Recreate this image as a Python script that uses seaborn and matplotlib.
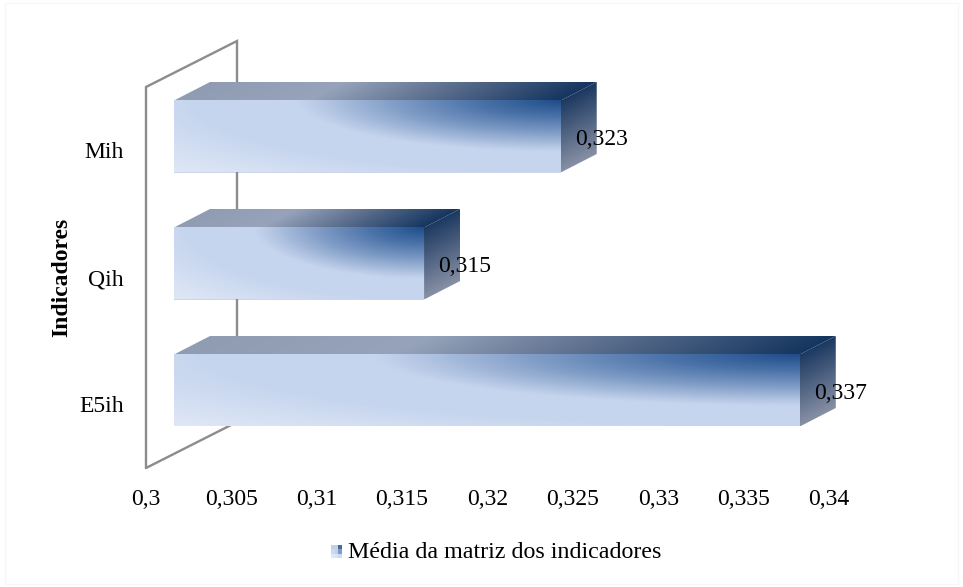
import numpy as np
import pandas as pd
import matplotlib
matplotlib.use("Agg")
import matplotlib.pyplot as plt
from matplotlib.colors import LinearSegmentedColormap
from matplotlib.patches import Rectangle, Polygon
import seaborn as sns

indicators = ["Mih", "Qih", "E5ih"]
means = [0.323, 0.315, 0.337]
value_labels = ["0,323", "0,315", "0,337"]
x_ticks = [0.3, 0.305, 0.31, 0.315, 0.32, 0.325, 0.33, 0.335, 0.34]
x_tick_labels = ["0,3", "0,305", "0,31", "0,315", "0,32", "0,325", "0,33", "0,335", "0,34"]
legend_label = "Média da matriz dos indicadores"
axis_title = "Indicadores"

W, H = 963, 587
FS = 17
sns.set_theme(style="white")
plt.rcParams["font.family"] = ["Liberation Serif", "DejaVu Serif"]

fig = plt.figure(figsize=(W / 100, H / 100), dpi=100, facecolor="white")
AX_L, AX_R, AX_T, AX_B = 146, 829, 87, 468
rect = [AX_L / W, 1 - AX_B / H, (AX_R - AX_L) / W, (AX_B - AX_T) / H]
ax = fig.add_axes(rect, zorder=1)

df = pd.DataFrame({"indicator": indicators, "mean": means})
sns.barplot(data=df, y="indicator", x="mean", order=indicators, width=72 / 127,
            color="#c6d5ee", ax=ax)
ax.set_xlim(0.3, 0.34)
ax.set_ylim(2.5, -0.5)

# pixel-to-data scales for the oblique projection
px_x = 0.04 / (AX_R - AX_L)
px_y = 3.0 / (AX_B - AX_T)

# numeric overlay on the same data scale, with extra room above and to the right for depth
OV_TOP, OV_RIGHT = 30, 860
ov = fig.add_axes([AX_L / W, 1 - AX_B / H, (OV_RIGHT - AX_L) / W, (AX_B - OV_TOP) / H], zorder=2)
ov_xlim = (0.3, 0.34 + (OV_RIGHT - AX_R) * px_x)
ov_ylim = (2.5, -0.5 - (AX_T - OV_TOP) * px_y)
ov.set_xlim(ov_xlim)
ov.set_ylim(ov_ylim)
ov.axis("off")

def off(dx, dy):
    return dx * px_x, dy * px_y

WALL = off(91, -46)
FRONT = off(28, -14)
END_SHIFT = 22 * px_x
DEPTH = off(36, -18.5)
GRAY = "#8c8c8c"

# side wall and back wall outlines
x0, x1 = 0.3, 0.3 + WALL[0]
y_top, y_bot = -0.5, 2.5
ov.plot([x0, x0, x1, x1, x0], [y_bot, y_top, y_top + WALL[1], y_bot + WALL[1], y_bot],
        color=GRAY, lw=1.7, zorder=1, clip_on=False, solid_joinstyle="miter")

front_cmap = LinearSegmentedColormap.from_list(
    "front", [(0, "#1f4d8a"), (0.25, "#4a72a8"), (0.5, "#7f9cc6"), (0.72, "#b4c6e3"),
              (0.8, "#c6d5ee"), (1, "#dfe7f6")], N=256)
top_cmap = LinearSegmentedColormap.from_list(
    "top", [(0, "#8f9cb2"), (0.35, "#96a3ba"), (0.65, "#5b6e8d"), (1, "#153660")], N=256)
side_cmap = LinearSegmentedColormap.from_list("side", ["#1b3860", "#868fa4"], N=256)

def face(array_fn, corners, cmap):
    """Paint a parallelogram with a shaded image clipped to its outline."""
    xs, ys = zip(*corners)
    xl, xh, yl, yh = min(xs), max(xs), min(ys), max(ys)
    gx, gy = np.meshgrid(np.linspace(xl, xh, 240), np.linspace(yl, yh, 80))
    im = ov.imshow(array_fn(gx, gy), cmap=cmap, vmin=0, vmax=1, extent=(xl, xh, yh, yl),
                   aspect="auto", origin="upper", zorder=4, interpolation="bilinear")
    poly = Polygon(corners, closed=True, transform=ov.transData, fill=False, lw=0)
    ov.add_patch(poly)
    im.set_clip_path(poly)

for i, (bar, v) in enumerate(zip(ax.patches, means)):
    h = bar.get_height()
    yt, yb = i - h / 2, i + h / 2
    left = 0.3 + FRONT[0]
    right = v + END_SHIFT
    bar.set_x(left)
    bar.set_width(right - left)
    bar.set_y(yt + FRONT[1])
    bar.set_linewidth(0)

    ytf, ybf = yt + FRONT[1], yb + FRONT[1]
    ddx, ddy = DEPTH
    seam_x, seam_y = 0.8 * px_x, 0.8 * px_y

    # front face: dark glow spreading from the top right corner
    def front(gx, gy):
        U = (gx - left) / (right - left)
        T = (gy - ytf) / (ybf - ytf)
        r = np.hypot((1 - U) / 0.68, T / 0.72)
        return np.clip(r, 0, 1) * 0.8 + np.clip((r - 1.4) / 0.6, 0, 1) * 0.2

    face(front, [(left, ytf - seam_y), (right + seam_x, ytf - seam_y),
                 (right + seam_x, ybf), (left, ybf)], front_cmap)

    # top face
    def top(gx, gy):
        D = (gy - ytf) / ddy
        return np.clip((gx - left - D * ddx) / (right - left), 0, 1)

    face(top, [(left, ytf), (right, ytf), (right + ddx, ytf + ddy), (left + ddx, ytf + ddy)], top_cmap)

    # end face
    def end(gx, gy):
        D = (gx - right) / ddx
        return np.clip((gy - ytf - D * ddy) / (ybf - ytf), 0, 1)

    face(end, [(right, ytf), (right + ddx, ytf + ddy), (right + ddx, ybf + ddy), (right, ybf)], side_cmap)

    ov.text(right + 14 * px_x, i + FRONT[1] + 3 * px_y, value_labels[i], fontsize=FS, va="center",
            ha="left", color="black", zorder=6, clip_on=False)

ov.set_xlim(ov_xlim)
ov.set_ylim(ov_ylim)
sns.despine(ax=ax, left=True, bottom=True, top=True, right=True)
ax.grid(False)

ax.set_xticks(x_ticks)
ax.set_xticklabels(x_tick_labels, fontsize=FS, color="black")
ax.tick_params(axis="x", length=0, pad=15)
ax.tick_params(axis="y", length=0, pad=16, labelsize=FS, labelcolor="black")
ax.set_xlabel("")
ax.set_ylabel(axis_title, fontsize=FS, fontweight="bold", color="black", labelpad=5)

# legend swatch with its own small gradient and caption
lax = fig.add_axes([331 / W, 1 - 558 / H, 11 / W, 13 / H], zorder=3)
lax.imshow(np.array([[0.78, 0.78, 0.2], [0.85, 0.78, 0.5], [1.0, 0.95, 0.85]]), cmap=front_cmap,
           vmin=0, vmax=1, aspect="auto", interpolation="nearest")
lax.axis("off")
fig.text(348 / W, 1 - 552 / H, legend_label, fontsize=17.3, va="center", ha="left", color="black")

fig.add_artist(Rectangle((5 / W, 3 / H), 1 - 10 / W, 1 - 6 / H, transform=fig.transFigure,
                         fill=False, edgecolor="#f7f7f7", lw=1))

fig.savefig("out.png", dpi=100, facecolor="white")
